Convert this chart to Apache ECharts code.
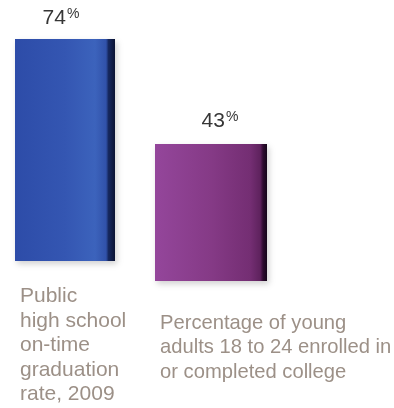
<!DOCTYPE html>
<html>
<head>
<meta charset="utf-8">
<script src="https://cdn.jsdelivr.net/npm/echarts@6/dist/echarts.min.js"></script>
<style>
  html, body { margin: 0; padding: 0; background: #ffffff; }
  #chart { width: 394px; height: 408px; }
</style>
</head>
<body>
<div id="chart"></div>
<script>
// Education indicators: one bar per measure
const categories = [
  'Public\nhigh school\non-time\ngraduation\nrate, 2009',
  'Percentage of young\nadults 18 to 24 enrolled in\nor completed college'
];
const values = [74, 43];
const valueSuffix = '%';

const FONT = '"Liberation Sans", Arial, Helvetica, sans-serif';
const TEXT_GREY = '#9c9087';

// Per-bar look: each bar lives in its own grid so it can sit on its own ground line
const barLooks = [
  {
    grid: { left: 15, top: 21, width: 100, height: 240 },
    labelWidth: 90, labelMargin: 23, labelSize: 21, valueOffset: [-4, 2], valueDistance: 12,
    fill: [
      [0, '#2d4ca8'], [0.5, '#3456b2'], [0.8, '#3c63bc'],
      [0.91, '#3152aa'], [0.935, '#16285f'], [1, '#0b1333']
    ]
  },
  {
    grid: { left: 155, top: 26, width: 112, height: 255 },
    labelWidth: 102, labelMargin: 30, labelSize: 20.2, valueOffset: [9, 0], valueDistance: 12,
    fill: [
      [0, '#94469b'], [0.5, '#853a86'], [0.85, '#742e73'],
      [0.94, '#5e225d'], [0.965, '#2e0c30'], [1, '#16061a']
    ]
  }
];

function gradient(stops) {
  return {
    type: 'linear', x: 0, y: 0, x2: 1, y2: 0,
    colorStops: stops.map(s => ({ offset: s[0], color: s[1] }))
  };
}

function asLeftLines(text) {
  return text.split('\n').map(line => '{t|' + line + '}').join('\n');
}

const chart = echarts.init(document.getElementById('chart'), null, { renderer: 'canvas' });

const option = {
  backgroundColor: '#ffffff',
  animation: false,
  grid: barLooks.map(b => Object.assign({ outerBoundsMode: 'none', containLabel: false }, b.grid)),
  xAxis: barLooks.map((b, i) => ({
    type: 'category',
    gridIndex: i,
    data: [categories[i]],
    axisLine: { show: false },
    axisTick: { show: false },
    axisLabel: {
      margin: b.labelMargin,
      width: b.labelWidth,
      overflow: 'none',
      align: 'center',
      verticalAlign: 'top',
      formatter: v => asLeftLines(v),
      rich: {
        t: {
          align: 'left',
          fontFamily: FONT,
          fontSize: b.labelSize,
          lineHeight: 24.5,
          color: TEXT_GREY
        }
      }
    }
  })),
  yAxis: barLooks.map((b, i) => ({
    type: 'value',
    gridIndex: i,
    min: 0,
    max: 80,
    show: false,
    splitLine: { show: false }
  })),
  series: barLooks.map((b, i) => ({
    type: 'bar',
    xAxisIndex: i,
    yAxisIndex: i,
    data: [values[i]],
    barWidth: '100%',
    clip: false,
    itemStyle: {
      color: gradient(b.fill),
      shadowColor: 'rgba(0,0,0,0.18)',
      shadowBlur: 6,
      shadowOffsetX: 2,
      shadowOffsetY: 3
    },
    label: {
      show: true,
      position: 'top',
      distance: b.valueDistance,
      offset: b.valueOffset,
      formatter: p => '{n|' + p.value + '}{p|' + valueSuffix + '}',
      rich: {
        n: { fontFamily: FONT, fontSize: 21, lineHeight: 22, color: '#363636', verticalAlign: 'bottom' },
        p: { fontFamily: FONT, fontSize: 14, lineHeight: 22, color: '#363636', verticalAlign: 'top', padding: [0, 0, 6, 1] }
      }
    }
  }))
};

chart.setOption(option);
</script>
</body>
</html>
